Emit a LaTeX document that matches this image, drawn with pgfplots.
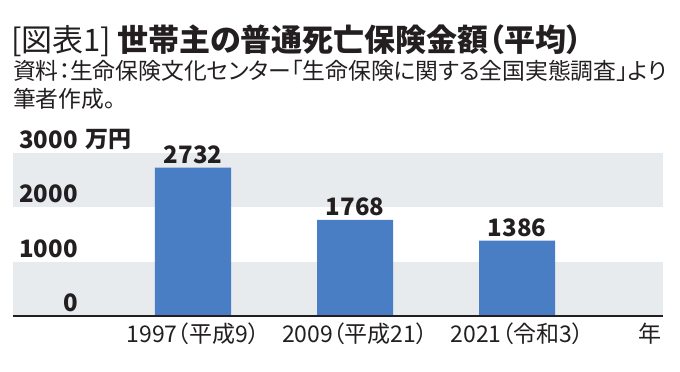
\documentclass[border=0pt]{standalone}
\usepackage{fontspec}
\setmainfont{Noto Sans CJK JP}[RawFeature=+palt]
\usepackage{pgfplots}
\pgfplotsset{compat=1.18}
\definecolor{barblue}{HTML}{4A7EC4}
\definecolor{bandgray}{HTML}{E8EBED}
\definecolor{txt}{HTML}{231F20}
\begin{document}
\begin{tikzpicture}
\useasboundingbox (0,0) rectangle (680bp,372bp);
\node[anchor=base west, inner sep=0, text=txt] at (11bp,320bp)
  {\fontsize{31bp}{31bp}\selectfont [図表1]\hspace{6bp}\bfseries 世帯主の普通死亡保険金額（平均）};
\node[anchor=base west, inner sep=0, text=txt] at (13bp,292bp)
  {\fontsize{22.8bp}{22.8bp}\selectfont 資料：生命保険文化センター「生命保険に関する全国実態調査」より};
\node[anchor=base west, inner sep=0, text=txt] at (13bp,264bp)
  {\fontsize{22.8bp}{22.8bp}\selectfont 筆者作成。};
\begin{axis}[
  at={(13bp,56bp)}, anchor=south west,
  scale only axis, width=650bp, height=163bp,
  xmin=-1.111, xmax=2.901, ymin=0, ymax=3000,
  axis on top,
  axis x line*=bottom, axis y line*=left,
  y axis line style={draw=none},
  x axis line style={draw=txt, line width=1.6bp},
  major tick length=0,
  xtick={0,1,2},
  xticklabels={1997（平成9）,2009（平成21）,2021（令和3）},
  xticklabel style={font=\fontsize{23bp}{23bp}\selectfont, text=txt, inner sep=0, anchor=north, yshift=-7bp},
  ytick={0,1000,2000,3000},
  yticklabels={0,1000,2000,3000},
  yticklabel style={font=\fontsize{24bp}{24bp}\selectfont\bfseries, text=txt, inner sep=0, anchor=south east, xshift=65bp, yshift=4bp},
  clip=false,
  /pgf/number format/.cd, 1000 sep={}, assume math mode=true,
]
\addplot[fill=bandgray, draw=none] coordinates {(-1.111,0) (2.901,0) (2.901,1000) (-1.111,1000)} -- cycle;
\addplot[fill=bandgray, draw=none] coordinates {(-1.111,2000) (2.901,2000) (2.901,3000) (-1.111,3000)} -- cycle;
\addplot[ybar, bar width=76bp, fill=barblue, draw=none,
  nodes near coords,
  nodes near coords style={font=\fontsize{24bp}{24bp}\selectfont\bfseries, text=txt, inner sep=0, anchor=south, yshift=4bp}]
  coordinates {(0,2732) (1,1768) (2,1386)};
\node[anchor=south west, inner sep=0, text=txt, font=\fontsize{23bp}{23bp}\selectfont\bfseries] at (rel axis cs:0,1) [xshift=72bp, yshift=3bp] {万円};
\node[anchor=north east, inner sep=0, text=txt, font=\fontsize{23bp}{23bp}\selectfont] at (rel axis cs:1,0) [xshift=-1bp, yshift=-7bp] {年};
\end{axis}
\end{tikzpicture}
\end{document}
